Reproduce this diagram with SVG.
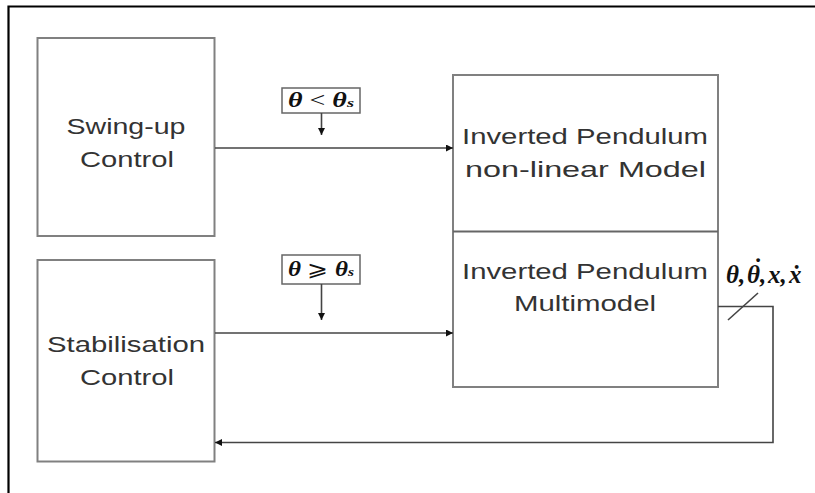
<svg xmlns="http://www.w3.org/2000/svg" width="815" height="493" viewBox="0 0 815 493">
  <style>
    .box { fill: #ffffff; stroke: #808080; stroke-width: 2; }
    .lbl { font-family: "Liberation Sans", Arial, sans-serif; font-size: 22px; fill: #333333; text-anchor: middle; }
    .math { font-family: "Liberation Serif", "Times New Roman", serif; font-weight: bold; font-style: italic; fill: #111111; }
    .wire { fill: none; stroke: #444444; stroke-width: 1.6; }
    .cond { fill: #ffffff; stroke: #666666; stroke-width: 1.5; }
  </style>
  <defs>
    <marker id="arrow" viewBox="0 0 10 10" refX="10" refY="5" markerWidth="8" markerHeight="7" markerUnits="userSpaceOnUse" orient="auto">
      <path d="M0,0 L10,5 L0,10 z" fill="#111111"/>
    </marker>
  </defs>
  <rect width="815" height="493" fill="#ffffff"/>
  <!-- frame -->
  <path d="M8.5,493 V6.5 H815" fill="none" stroke="#000000" stroke-width="2.2"/>

  <g id="swing-up">
    <rect class="box" x="37.5" y="38" width="177" height="198"/>
    <text class="lbl" x="126" y="134" textLength="119" lengthAdjust="spacingAndGlyphs">Swing-up</text>
    <text class="lbl" x="127" y="167" textLength="94" lengthAdjust="spacingAndGlyphs">Control</text>
  </g>

  <g id="stabilisation">
    <rect class="box" x="37.5" y="260" width="177" height="201.5"/>
    <text class="lbl" x="126" y="352" textLength="158" lengthAdjust="spacingAndGlyphs">Stabilisation</text>
    <text class="lbl" x="127" y="385" textLength="94" lengthAdjust="spacingAndGlyphs">Control</text>
  </g>

  <g id="pendulum">
    <rect class="box" x="453" y="75" width="265" height="312"/>
    <line x1="453" y1="231.5" x2="718" y2="231.5" stroke="#666666" stroke-width="2"/>
    <text class="lbl" x="585" y="144" textLength="246" lengthAdjust="spacingAndGlyphs">Inverted Pendulum</text>
    <text class="lbl" x="585.5" y="177" textLength="241" lengthAdjust="spacingAndGlyphs">non-linear Model</text>
    <text class="lbl" x="585" y="279" textLength="246" lengthAdjust="spacingAndGlyphs">Inverted Pendulum</text>
    <text class="lbl" x="585" y="311" textLength="142" lengthAdjust="spacingAndGlyphs">Multimodel</text>
  </g>

  <g id="cond-swing">
    <rect class="cond" x="282" y="88" width="78" height="25"/>
    <text class="math" x="288" y="107" font-size="20" textLength="66" lengthAdjust="spacingAndGlyphs">θ <tspan font-weight="normal" font-style="normal">&lt;</tspan> θ<tspan font-size="13">s</tspan></text>
  </g>

  <g id="cond-stab">
    <rect class="cond" x="282" y="255" width="78" height="29"/>
    <text class="math" x="288" y="276" font-size="21" textLength="66" lengthAdjust="spacingAndGlyphs">θ <tspan font-weight="normal" font-style="normal">⩾</tspan> θ<tspan font-size="13">s</tspan></text>
  </g>

  <g id="states">
    <!-- θ, θ̇, x, ẋ : the dot over the second θ is placed as its own glyph -->
    <text class="math" font-size="25"><tspan x="726" y="283">θ,</tspan><tspan x="747" y="283">θ,</tspan><tspan x="768" y="283">x,</tspan><tspan x="789" y="283">ẋ</tspan><tspan x="752.5" y="276">˙</tspan></text>
  </g>

  <g id="connectors">
    <line class="wire" x1="215" y1="148" x2="453" y2="148" marker-end="url(#arrow)"/>
    <line class="wire" x1="215" y1="333" x2="453" y2="333" marker-end="url(#arrow)"/>
    <line class="wire" x1="321.5" y1="113" x2="321.5" y2="135" marker-end="url(#arrow)"/>
    <line class="wire" x1="321.5" y1="284" x2="321.5" y2="320" marker-end="url(#arrow)"/>
    <polyline class="wire" points="718,306.5 773,306.5 773,442.5 215,442.5" stroke="#666666" marker-end="url(#arrow)"/>
    <line class="wire" x1="728" y1="320" x2="758" y2="293"/>
  </g>
</svg>
